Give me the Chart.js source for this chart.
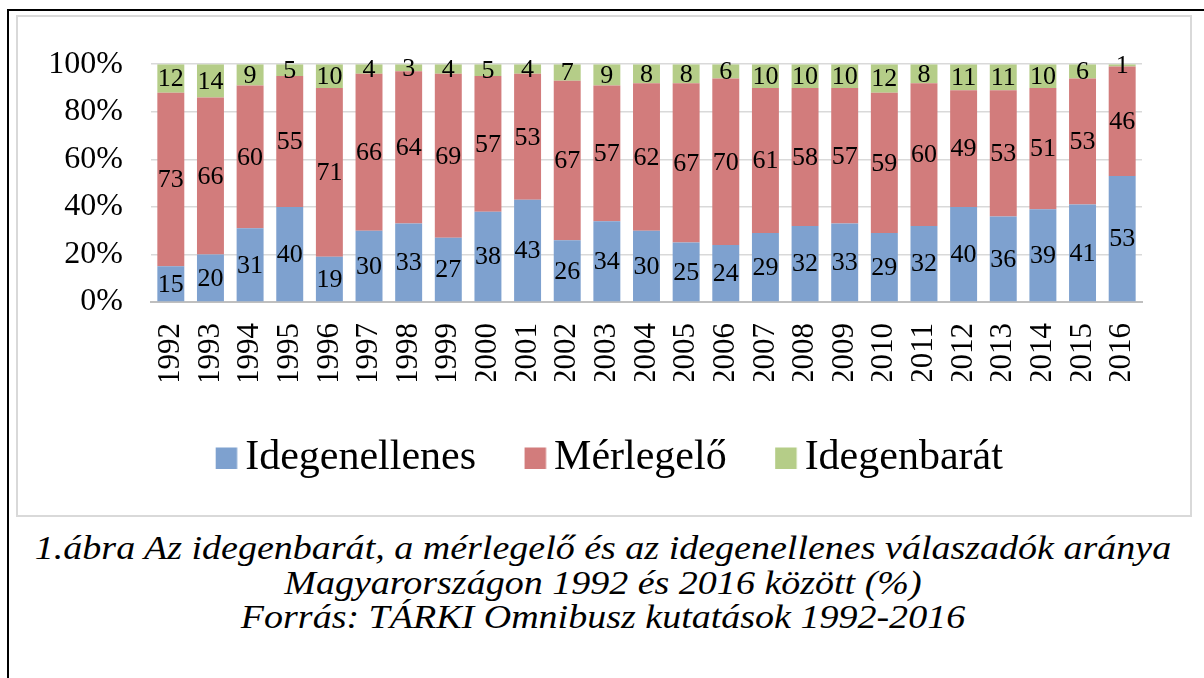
<!DOCTYPE html>
<html>
<head>
<meta charset="utf-8">
<script src="https://cdn.jsdelivr.net/npm/chart.js@4.4.1/dist/chart.umd.min.js"></script>
<style>
  html, body { margin: 0; padding: 0; background: #fff; width: 1204px; height: 678px; overflow: hidden; }
  #outer { position: absolute; left: 7px; top: 9px; width: 1210px; height: 680px; border-left: 2px solid #000; border-top: 2px solid #000; }
  #inner { position: absolute; left: 16px; top: 15px; width: 1172px; height: 498px; border: 2px solid #d9d9d9; background: #fff; }
  #chart { position: absolute; left: 0; top: 0; }
  #caption { position: absolute; left: 8px; top: 531px; width: 1190px; text-align: center; font-family: "Liberation Serif", "Times New Roman", serif; font-style: italic; font-size: 34px; line-height: 34.5px; color: #000; transform: scaleX(1.118); transform-origin: 595px 0; }
</style>
</head>
<body>
<div id="outer"></div>
<div id="inner"><canvas id="chart" width="1172" height="498"></canvas></div>
<div id="caption">1.ábra Az idegenbarát, a mérlegelő és az idegenellenes válaszadók aránya<br>Magyarországon 1992 és 2016 között (%)<br>Forrás: TÁRKI Omnibusz kutatások 1992-2016</div>
<script>
const years = ['1992','1993','1994','1995','1996','1997','1998','1999','2000','2001','2002','2003','2004','2005','2006','2007','2008','2009','2010','2011','2012','2013','2014','2015','2016'];
const idegenellenes = [15,20,31,40,19,30,33,27,38,43,26,34,30,25,24,29,32,33,29,32,40,36,39,41,53];
const merlegelo = [73,66,60,55,71,66,64,69,57,53,67,57,62,67,70,61,58,57,59,60,49,53,51,53,46];
const idegenbarat = [12,14,9,5,10,4,3,4,5,4,7,9,8,8,6,10,10,10,12,8,11,11,10,6,1];
const yTicks = [0,20,40,60,80,100];

const serif = '"Liberation Serif", "Times New Roman", serif';

function swatch(color) {
  const c = document.createElement('canvas');
  c.width = 40; c.height = 22;
  const g = c.getContext('2d');
  g.fillStyle = color;
  g.fillRect(12, 0.5, 21.5, 21.5);
  return c;
}

const labelPlugin = {
  id: 'segLabels',
  afterLayout(chart) {
    if (chart.legend) { chart.legend.left += 23; chart.legend.right += 23; }
  },
  afterDatasetsDraw(chart) {
    const ctx = chart.ctx;
    ctx.save();
    ctx.font = '26px ' + serif;
    ctx.fillStyle = '#000';
    ctx.textAlign = 'center';
    ctx.textBaseline = 'middle';
    chart.data.datasets.forEach((ds, di) => {
      const meta = chart.getDatasetMeta(di);
      meta.data.forEach((el, i) => {
        const v = ds.data[i];
        const y = (el.y + el.base) / 2;
        ctx.fillText(String(v), el.x, y + 1);
      });
    });
    ctx.restore();
  }
};

const colors = ['#7ea1cf', '#d27c7c', '#b5cd88'];

new Chart(document.getElementById('chart'), {
  type: 'bar',
  data: {
    labels: years,
    datasets: [
      { label: 'Idegenellenes', data: idegenellenes, backgroundColor: colors[0], pointStyle: swatch(colors[0]), categoryPercentage: 0.68, barPercentage: 1.0 },
      { label: 'Mérlegelő', data: merlegelo, backgroundColor: colors[1], pointStyle: swatch(colors[1]), categoryPercentage: 0.68, barPercentage: 1.0 },
      { label: 'Idegenbarát', data: idegenbarat, backgroundColor: colors[2], pointStyle: swatch(colors[2]), categoryPercentage: 0.68, barPercentage: 1.0 }
    ]
  },
  options: {
    responsive: false,
    animation: false,
    layout: { padding: { top: 44, right: 48, bottom: 26, left: 20 } },
    plugins: {
      legend: {
        position: 'bottom',
        labels: {
          font: { family: serif, size: 42 },
          color: '#000',
          usePointStyle: true,
          boxWidth: 1,
          boxHeight: 21,
          padding: 56
        }
      },
      tooltip: { enabled: false }
    },
    scales: {
      x: {
        stacked: true,
        grid: { display: false, drawTicks: false },
        border: { display: true, color: '#bfbfbf', width: 2 },
        afterFit(axis) { axis.height = 79; },
        ticks: {
          font: { family: serif, size: 31 },
          color: '#000',
          minRotation: 90,
          maxRotation: 90,
          padding: 21,
          autoSkip: false
        }
      },
      y: {
        stacked: true,
        min: 0,
        max: 100,
        afterBuildTicks(axis) { axis.ticks = yTicks.map(v => ({ value: v })); },
        afterFit(axis) { axis.width = 113; },
        grid: { color: '#d9d9d9', lineWidth: 1.5, drawTicks: false },
        border: { display: false },
        ticks: {
          font: { family: serif, size: 32 },
          color: '#000',
          padding: 28,
          callback: v => v + '%'
        }
      }
    }
  },
  plugins: [labelPlugin]
});
</script>
</body>
</html>
